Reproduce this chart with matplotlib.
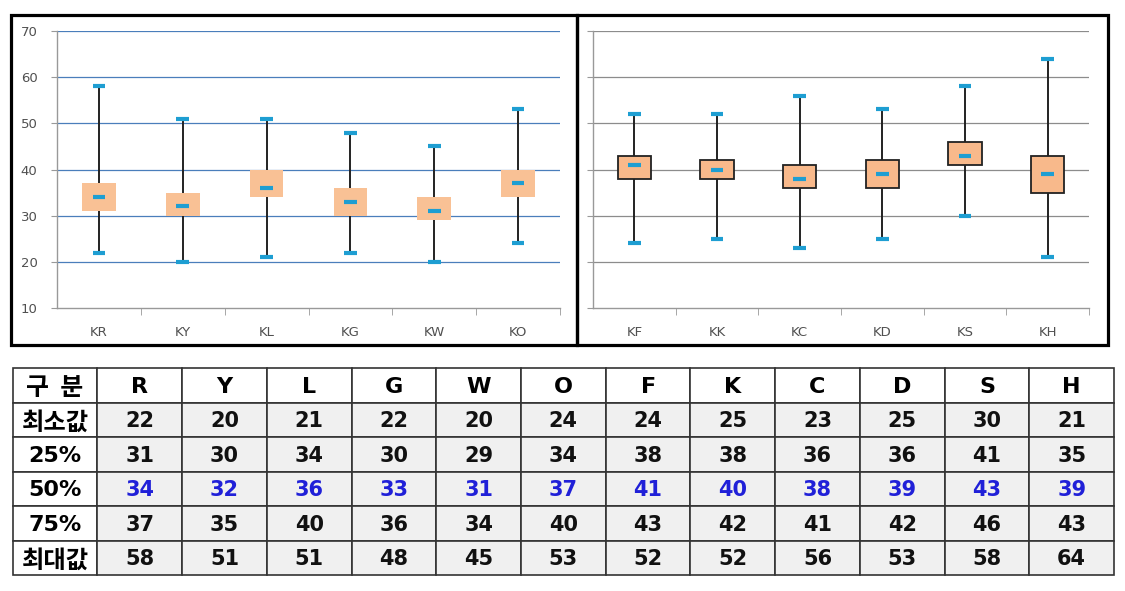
import matplotlib
matplotlib.use("Agg")
import matplotlib.pyplot as plt
from matplotlib.patches import Rectangle

# ---------------- data ----------------
codes = ["R", "Y", "L", "G", "W", "O", "F", "K", "C", "D", "S", "H"]
left_labels = ["KR", "KY", "KL", "KG", "KW", "KO"]
right_labels = ["KF", "KK", "KC", "KD", "KS", "KH"]
mins = [22, 20, 21, 22, 20, 24, 24, 25, 23, 25, 30, 21]
q25 = [31, 30, 34, 30, 29, 34, 38, 38, 36, 36, 41, 35]
q50 = [34, 32, 36, 33, 31, 37, 41, 40, 38, 39, 43, 39]
q75 = [37, 35, 40, 36, 34, 40, 43, 42, 41, 42, 46, 43]
maxs = [58, 51, 51, 48, 45, 53, 52, 52, 56, 53, 58, 64]
row_names = ["최소값", "25%", "50%", "75%", "최대값"]
header_name = "구  분"
y_ticks = [10, 20, 30, 40, 50, 60, 70]

W, H = 1125, 591
fig = plt.figure(figsize=(W / 100, H / 100), dpi=100)
fig.patch.set_facecolor("white")


def px(x0, y0, x1, y1):
    return [x0 / W, 1 - y1 / H, (x1 - x0) / W, (y1 - y0) / H]


CAP = "#1E9ED2"
TICKC = "#505050"


def draw_panel(ax, labels, sl, grid_color, box_fc, box_ec, show_ylabels):
    n = len(labels)
    xs = list(range(n))
    lo = mins[sl]; a = q25[sl]; m = q50[sl]; b = q75[sl]; hi = maxs[sl]
    ax.set_xlim(-0.5, n - 0.5)
    ax.set_ylim(10, 70)
    for yv in y_ticks[1:]:
        ax.axhline(yv, color=grid_color, lw=0.9, zorder=0)
    ax.vlines(xs, lo, hi, color="#222222", lw=1.4, zorder=1)
    heights = [bb - aa for aa, bb in zip(a, b)]
    if box_ec is None:
        ax.bar(xs, heights, bottom=a, width=0.4, color=box_fc, edgecolor="none", zorder=2)
    else:
        ax.bar(xs, heights, bottom=a, width=0.4, color=box_fc, edgecolor=box_ec, lw=1.3, zorder=2)
    cw = 0.075
    ax.hlines(lo, [x - cw for x in xs], [x + cw for x in xs], color=CAP, lw=3, zorder=3)
    ax.hlines(hi, [x - cw for x in xs], [x + cw for x in xs], color=CAP, lw=3, zorder=3)
    ax.hlines(m, [x - cw for x in xs], [x + cw for x in xs], color=CAP, lw=3, zorder=3)
    for s in ["top", "right"]:
        ax.spines[s].set_visible(False)
    for s in ["left", "bottom"]:
        ax.spines[s].set_color("#999999")
        ax.spines[s].set_linewidth(1.0)
    ax.set_xticks(xs)
    ax.set_xticklabels(labels, fontsize=9.5, color=TICKC)
    ax.tick_params(axis="x", length=0, pad=13)
    ax.set_xticks([x + 0.5 for x in xs], minor=True)
    ax.tick_params(axis="x", which="minor", length=5, color="#999999", direction="out")
    ax.set_yticks(y_ticks)
    ax.tick_params(axis="y", length=4, color="#999999", direction="out", labelsize=9.5,
                   labelcolor=TICKC, pad=10)
    if not show_ylabels:
        ax.set_yticklabels([])
    ax.set_facecolor("none")


ax1 = fig.add_axes(px(57, 31, 560, 308))
draw_panel(ax1, left_labels, slice(0, 6), "#4A7EBB", "#F9C195", None, True)
ax2 = fig.add_axes(px(593, 31, 1089, 308))
draw_panel(ax2, right_labels, slice(6, 12), "#8C8C8C", "#F8B98B", "#222222", False)

# panel borders
for (x0, y0, x1, y1) in [(11, 15, 577, 345), (577, 15, 1108, 345)]:
    fig.add_artist(Rectangle((x0 / W, 1 - y1 / H), (x1 - x0) / W, (y1 - y0) / H,
                             transform=fig.transFigure, fill=False, lw=2.3, ec="black"))

# ---------------- table ----------------
axt = fig.add_axes(px(12.7, 368, 1114, 575))
ncols = len(codes) + 1
nrows = len(row_names) + 1
axt.set_xlim(0, ncols)
axt.set_ylim(nrows, 0)
axt.axis("off")
values = [mins, q25, q50, q75, maxs]
num_font = "DejaVu Sans"
kor_font = ["Noto Sans CJK KR", "DejaVu Sans"]
for r in range(nrows):
    for c in range(ncols):
        fc = "white" if (r == 0 or c == 0) else "#F0F0F0"
        axt.add_patch(Rectangle((c, r), 1, 1, fc=fc, ec="#333333", lw=1.2, clip_on=False))
# header
axt.text(0.5, 0.58, header_name, ha="center", va="center", fontsize=18, fontweight="black",
         family=kor_font)
for j, code in enumerate(codes):
    axt.text(j + 1.5, 0.55, code, ha="center", va="center", fontsize=16, fontweight="bold",
             family=num_font)
for i, name in enumerate(row_names):
    is_kor = not name.endswith("%")
    axt.text(0.5, i + (1.58 if is_kor else 1.55), name, ha="center", va="center",
             fontsize=17.5 if is_kor else 16, fontweight="black" if is_kor else "bold",
             family=kor_font if is_kor else num_font)
    col = "#2020D8" if name == "50%" else "#111111"
    for j, v in enumerate(values[i]):
        axt.text(j + 1.5, i + 1.55, str(v), ha="center", va="center", fontsize=15,
                 fontweight="bold", family=num_font, color=col)

fig.savefig("out.png", dpi=100)
